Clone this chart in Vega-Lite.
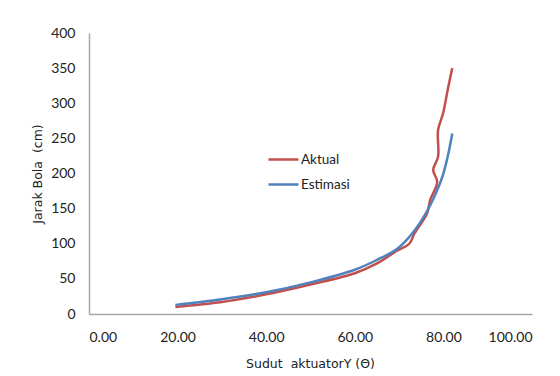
{
  "$schema": "https://vega.github.io/schema/vega-lite/v6.json",
  "width": 443,
  "height": 281,
  "autosize": {"type": "none"},
  "padding": {"left": 89, "top": 33, "right": 28, "bottom": 62},
  "background": "white",
  "config": {"view": {"stroke": null}},
  "data": {"values": [
    {"s": "Aktual", "i": 0, "x": 19.5, "y": 10},
    {"s": "Aktual", "i": 1, "x": 30, "y": 17},
    {"s": "Aktual", "i": 2, "x": 40, "y": 28},
    {"s": "Aktual", "i": 3, "x": 50, "y": 42},
    {"s": "Aktual", "i": 4, "x": 60, "y": 58},
    {"s": "Aktual", "i": 5, "x": 65, "y": 72},
    {"s": "Aktual", "i": 6, "x": 69.5, "y": 90},
    {"s": "Aktual", "i": 7, "x": 72.3, "y": 100},
    {"s": "Aktual", "i": 8, "x": 73.5, "y": 115},
    {"s": "Aktual", "i": 9, "x": 76.3, "y": 143},
    {"s": "Aktual", "i": 10, "x": 77, "y": 162},
    {"s": "Aktual", "i": 11, "x": 78.6, "y": 188},
    {"s": "Aktual", "i": 12, "x": 77.7, "y": 205},
    {"s": "Aktual", "i": 13, "x": 78.8, "y": 224},
    {"s": "Aktual", "i": 14, "x": 78.8, "y": 262},
    {"s": "Aktual", "i": 15, "x": 79.9, "y": 285},
    {"s": "Aktual", "i": 16, "x": 81, "y": 320},
    {"s": "Aktual", "i": 17, "x": 82, "y": 350},
    {"s": "Estimasi", "i": 0, "x": 19.5, "y": 13},
    {"s": "Estimasi", "i": 1, "x": 30, "y": 21},
    {"s": "Estimasi", "i": 2, "x": 40, "y": 31},
    {"s": "Estimasi", "i": 3, "x": 50, "y": 45},
    {"s": "Estimasi", "i": 4, "x": 60, "y": 63},
    {"s": "Estimasi", "i": 5, "x": 65, "y": 77},
    {"s": "Estimasi", "i": 6, "x": 69.6, "y": 93},
    {"s": "Estimasi", "i": 7, "x": 73, "y": 115},
    {"s": "Estimasi", "i": 8, "x": 76, "y": 143},
    {"s": "Estimasi", "i": 9, "x": 78.3, "y": 172},
    {"s": "Estimasi", "i": 10, "x": 79.8, "y": 196},
    {"s": "Estimasi", "i": 11, "x": 81, "y": 225},
    {"s": "Estimasi", "i": 12, "x": 82, "y": 257}
  ]},
  "mark": {"type": "line", "interpolate": "catmull-rom", "strokeWidth": 2.5},
  "encoding": {
    "x": {
      "field": "x", "type": "quantitative",
      "scale": {"domain": [0, 100], "nice": false},
      "axis": {
        "values": [0, 20, 40, 60, 80, 100],
        "format": ".2f",
        "grid": false,
        "ticks": false,
        "domainColor": "#a6a6a6",
        "domainWidth": 1.5,
        "labelFont": "Lato",
        "labelFontSize": 14,
        "labelColor": "#222222",
        "labelPadding": 16,
        "title": "Sudut \u00a0aktuatorY (\u0398)",
        "titleFont": "DejaVu Sans",
        "titleFontSize": 12.5,
        "titleFontWeight": "normal",
        "titleColor": "#222222",
        "titleX": 221,
        "titleY": 49,
        "titleBaseline": "middle"
      }
    },
    "y": {
      "field": "y", "type": "quantitative",
      "scale": {"domain": [0, 400], "nice": false},
      "axis": {
        "values": [0, 50, 100, 150, 200, 250, 300, 350, 400],
        "grid": false,
        "ticks": false,
        "domainColor": "#a6a6a6",
        "domainWidth": 1.5,
        "labelFont": "Lato",
        "labelFontSize": 14,
        "labelColor": "#222222",
        "labelPadding": 14,
        "title": "Jarak Bola \u00a0(cm)",
        "titleFont": "DejaVu Sans",
        "titleFontSize": 12.5,
        "titleFontWeight": "normal",
        "titleColor": "#222222",
        "titleX": -52,
        "titleY": 140.5,
        "titleBaseline": "middle"
      }
    },
    "color": {
      "field": "s", "type": "nominal",
      "scale": {"domain": ["Aktual", "Estimasi"], "range": ["#C0504D", "#4F81BD"]},
      "legend": {
        "title": null,
        "orient": "none",
        "legendX": 178,
        "legendY": 110,
        "symbolType": "stroke",
        "symbolSize": 900,
        "symbolStrokeWidth": 2.5,
        "labelFont": "Lato",
        "labelFontSize": 13.5,
        "labelColor": "#222222",
        "labelOffset": 1,
        "rowPadding": 2
      }
    },
    "order": {"field": "i", "type": "quantitative"}
  }
}
